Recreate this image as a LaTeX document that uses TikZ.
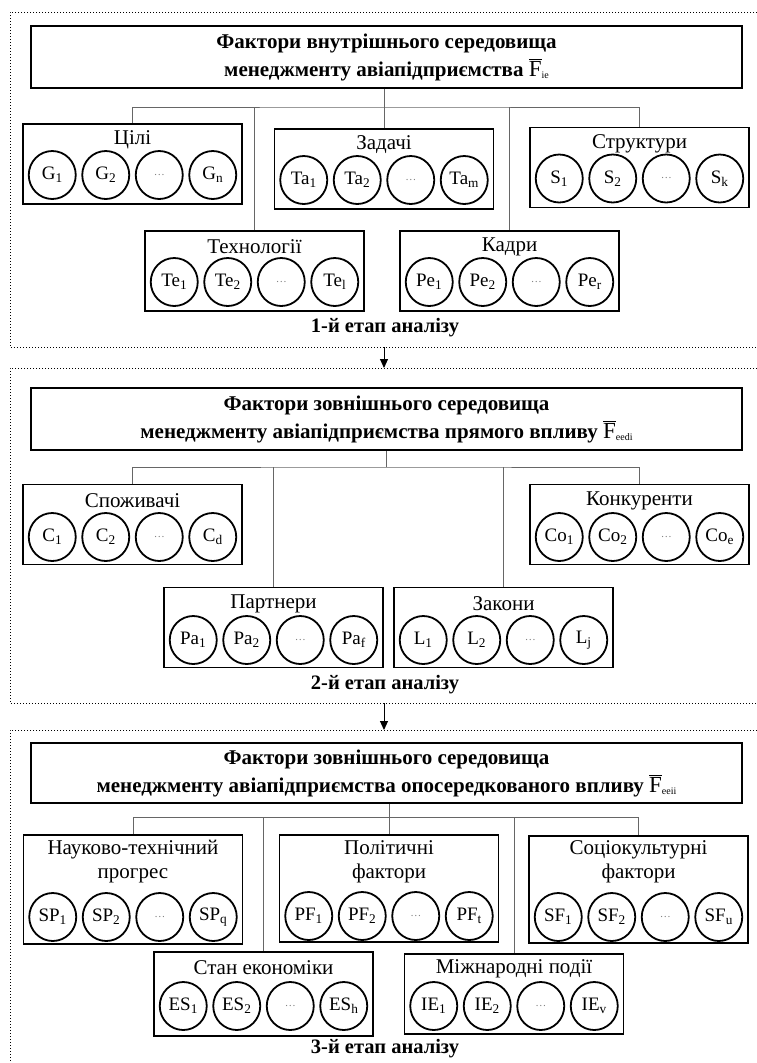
\documentclass[tikz,border=0pt]{standalone}
\usepackage{fontspec}
\setmainfont{Liberation Serif}
\usetikzlibrary{arrows.meta,shapes.geometric}

% 带横线的 F
\newcommand{\Fbar}[1]{{\mdseries\fontsize{23}{28}\selectfont$\overline{\mbox{F}}$\raisebox{-2pt}{\fontsize{10}{10}\selectfont #1}}}

\tikzset{
    titlebox/.style={draw, line width=1.8pt, minimum width=711pt, minimum height=62pt, align=center, font=\fontsize{21}{28}\selectfont\bfseries},
    groupbox/.style={draw, line width=1.8pt, minimum width=219pt, minimum height=80pt},
    grouplabel/.style={font=\fontsize{21}{24}\selectfont, align=center, inner sep=0pt},
    factor/.style={draw, ellipse, line width=1.8pt, minimum width=47pt, minimum height=48pt, inner sep=0pt, font=\fontsize{19}{19}\selectfont},
    emptyfactor/.style={factor, font=\fontsize{11}{11}\selectfont, text=gray},
    link/.style={draw=gray!80!black, line width=1pt},
    frame/.style={dotted, line width=1pt},
    stage/.style={font=\fontsize{20.5}{20.5}\selectfont\bfseries}
}

\begin{document}
\begin{tikzpicture}[x=1pt, y=-1pt]
    \useasboundingbox (0,0) rectangle (757,1063);

    % 第1阶段:内部环境因素
    \draw[frame] (757,12) -- (10,12) -- (10,347) -- (757,347);
    \node[titlebox] (t1) at (386.5,57) {Фактори внутрішнього середовища\\менеджменту авіапідприємства \Fbar{ie}};

    \node[groupbox] (goals) at (132.5,164) {};
    \node[grouplabel] (goalslabel) at (132.5,140) {Цілі};
    \path (52.25,175) node[factor] (g1) {G\textsubscript{1}} ++(53.5,0) node[factor] (g2) {G\textsubscript{2}}
        ++(53.5,0) node[emptyfactor] (g3) {\ldots} ++(53.5,0) node[factor] (g4) {G\textsubscript{n}};

    \node[groupbox] (tasks) at (384,169) {};
    \node[grouplabel] (taskslabel) at (384,145) {Задачі};
    \path (303.75,180) node[factor] (ta1) {Ta\textsubscript{1}} ++(53.5,0) node[factor] (ta2) {Ta\textsubscript{2}}
        ++(53.5,0) node[emptyfactor] (ta3) {\ldots} ++(53.5,0) node[factor] (ta4) {Ta\textsubscript{m}};

    \node[groupbox] (struct) at (639.5,167.5) {};
    \node[grouplabel] (structlabel) at (639.5,143.5) {Структури};
    \path (559.25,178.5) node[factor] (s1) {S\textsubscript{1}} ++(53.5,0) node[factor] (s2) {S\textsubscript{2}}
        ++(53.5,0) node[emptyfactor] (s3) {\ldots} ++(53.5,0) node[factor] (s4) {S\textsubscript{k}};

    \node[groupbox] (tech) at (254.5,271) {};
    \node[grouplabel] (techlabel) at (254.5,247) {Технології};
    \path (174.25,282) node[factor] (te1) {Te\textsubscript{1}} ++(53.5,0) node[factor] (te2) {Te\textsubscript{2}}
        ++(53.5,0) node[emptyfactor] (te3) {\ldots} ++(53.5,0) node[factor] (te4) {Te\textsubscript{l}};

    \node[groupbox] (staff) at (509.5,271) {};
    \node[grouplabel] (stafflabel) at (509.5,247) {Кадри};
    \path (429.25,282) node[factor] (pe1) {Pe\textsubscript{1}} ++(53.5,0) node[factor] (pe2) {Pe\textsubscript{2}}
        ++(53.5,0) node[emptyfactor] (pe3) {\ldots} ++(53.5,0) node[factor] (pe4) {Pe\textsubscript{r}};

    % 连线
    \coordinate (bus1) at (384,107);
    \draw[link] (tasks.north) -- (tasks.north |- t1.south);
    \draw[link] (goals.north) |- (bus1) -| (struct.north);
    \draw[link] (tech.north) -- (tech.north |- bus1);
    \draw[link] (staff.north) -- (staff.north |- bus1);

    \node[stage] (stage1) at (385,328) {1-й етап аналізу};

    % 箭头指向第2阶段
    \coordinate (out1) at (384,347);
    \coordinate (in2) at (384,368);
    \draw[-{Triangle[length=9pt,width=8pt]}, line width=1pt] (out1) -- (in2);

    % 第2阶段:直接影响的外部因素
    \draw[frame] (757,368) -- (10,368) -- (10,703) -- (757,703);
    \node[titlebox] (t2) at (386.5,419) {Фактори зовнішнього середовища\\менеджменту авіапідприємства прямого впливу \Fbar{eedi}};

    \node[groupbox] (cons) at (132.5,524.5) {};
    \node[grouplabel] (conslabel) at (132.5,500.5) {Споживачі};
    \path (52.25,537) node[factor] (c1) {C\textsubscript{1}} ++(53.5,0) node[factor] (c2) {C\textsubscript{2}}
        ++(53.5,0) node[emptyfactor] (c3) {\ldots} ++(53.5,0) node[factor] (c4) {C\textsubscript{d}};

    \node[groupbox] (comp) at (639.5,524.5) {};
    \node[grouplabel] (complabel) at (639.5,500.5) {Конкуренти};
    \path (559.25,537) node[factor] (co1) {Co\textsubscript{1}} ++(53.5,0) node[factor] (co2) {Co\textsubscript{2}}
        ++(53.5,0) node[emptyfactor] (co3) {\ldots} ++(53.5,0) node[factor] (co4) {Co\textsubscript{e}};

    \node[groupbox] (part) at (273.5,627.5) {};
    \node[grouplabel] (partlabel) at (273.5,603.5) {Партнери};
    \path (193.25,640) node[factor] (pa1) {Pa\textsubscript{1}} ++(53.5,0) node[factor] (pa2) {Pa\textsubscript{2}}
        ++(53.5,0) node[emptyfactor] (pa3) {\ldots} ++(53.5,0) node[factor] (pa4) {Pa\textsubscript{f}};

    \node[groupbox] (law) at (503.5,627.5) {};
    \node[grouplabel] (lawlabel) at (503.5,603.5) {Закони};
    \path (423.25,640) node[factor] (l1) {L\textsubscript{1}} ++(53.5,0) node[factor] (l2) {L\textsubscript{2}}
        ++(53.5,0) node[emptyfactor] (l3) {\ldots} ++(53.5,0) node[factor] (l4) {L\textsubscript{j}};

    % 连线
    \coordinate (bus2) at (386.5,467);
    \draw[link] (t2.south) -- (bus2);
    \draw[link] (cons.north) |- (bus2) -| (comp.north);
    \draw[link] (part.north) -- (part.north |- bus2);
    \draw[link] (law.north) -- (law.north |- bus2);

    \node[stage] (stage2) at (385,685) {2-й етап аналізу};

    % 箭头指向第3阶段
    \coordinate (out2) at (384,703);
    \coordinate (in3) at (384,730);
    \draw[-{Triangle[length=9pt,width=8pt]}, line width=1pt] (out2) -- (in3);

    % 第3阶段:间接影响的外部因素
    \draw[frame] (757,730) -- (10,730) -- (10,1063);
    \node[titlebox, minimum height=60pt] (t3) at (386.5,773) {Фактори зовнішнього середовища\\менеджменту авіапідприємства опосередкованого впливу \Fbar{eeii}};

    \node[groupbox, minimum height=109pt] (sci) at (133,889.5) {};
    \node[grouplabel] (scilabel) at (133,862) {Науково-технічний\\прогрес};
    \path (52.75,917) node[factor] (sp1) {SP\textsubscript{1}} ++(53.5,0) node[factor] (sp2) {SP\textsubscript{2}}
        ++(53.5,0) node[emptyfactor] (sp3) {\ldots} ++(53.5,0) node[factor] (sp4) {SP\textsubscript{q}};

    \node[groupbox, minimum height=107pt] (pol) at (389,888.5) {};
    \node[grouplabel] (pollabel) at (389,862) {Політичні\\фактори};
    \path (308.75,916) node[factor] (pf1) {PF\textsubscript{1}} ++(53.5,0) node[factor] (pf2) {PF\textsubscript{2}}
        ++(53.5,0) node[emptyfactor] (pf3) {\ldots} ++(53.5,0) node[factor] (pf4) {PF\textsubscript{t}};

    \node[groupbox, minimum height=107pt] (soc) at (638.5,889.5) {};
    \node[grouplabel] (soclabel) at (638.5,862) {Соціокультурні\\фактори};
    \path (558.25,917) node[factor] (sf1) {SF\textsubscript{1}} ++(53.5,0) node[factor] (sf2) {SF\textsubscript{2}}
        ++(53.5,0) node[emptyfactor] (sf3) {\ldots} ++(53.5,0) node[factor] (sf4) {SF\textsubscript{u}};

    \node[groupbox, minimum height=84pt] (econ) at (263.5,994) {};
    \node[grouplabel] (econlabel) at (263.5,968) {Стан економіки};
    \path (183.25,1006) node[factor] (es1) {ES\textsubscript{1}} ++(53.5,0) node[factor] (es2) {ES\textsubscript{2}}
        ++(53.5,0) node[emptyfactor] (es3) {\ldots} ++(53.5,0) node[factor] (es4) {ES\textsubscript{h}};

    \node[groupbox, minimum height=80pt] (intl) at (514,994) {};
    \node[grouplabel] (intllabel) at (514,969) {Міжнародні події};
    \path (433.75,1006) node[factor] (ie1) {IE\textsubscript{1}} ++(53.5,0) node[factor] (ie2) {IE\textsubscript{2}}
        ++(53.5,0) node[emptyfactor] (ie3) {\ldots} ++(53.5,0) node[factor] (ie4) {IE\textsubscript{v}};

    % 连线
    \coordinate (bus3) at (389,817);
    \draw[link] (pol.north) -- (pol.north |- t3.south);
    \draw[link] (sci.north) |- (bus3) -| (soc.north);
    \draw[link] (econ.north) -- (econ.north |- bus3);
    \draw[link] (intl.north) -- (intl.north |- bus3);

    \node[stage] (stage3) at (385,1049) {3-й етап аналізу};

\end{tikzpicture}
\end{document}
